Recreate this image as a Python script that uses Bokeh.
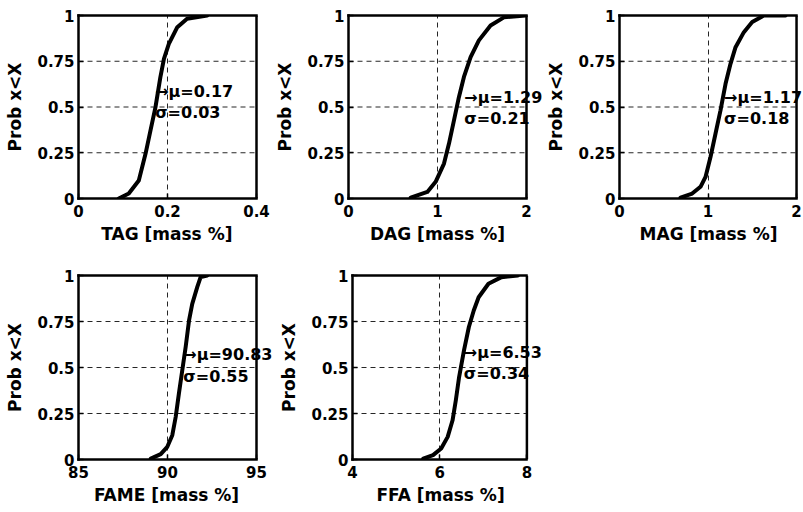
from bokeh.plotting import figure
from bokeh.layouts import column, row
from bokeh.models import Range1d, FixedTicker, Label, LinearAxis, Span, Title
from bokeh.embed import file_html
from bokeh.resources import INLINE

# ---- data -------------------------------------------------------------
components = ["TAG", "DAG", "MAG", "FAME", "FFA"]
mu = [0.17, 1.29, 1.17, 90.83, 6.53]
sigma = [0.03, 0.21, 0.18, 0.55, 0.34]

x_limits = [(0, 0.4), (0, 2), (0, 2), (85, 95), (4, 8)]
x_ticks = [[0, 0.2, 0.4], [0, 1, 2], [0, 1, 2], [85, 90, 95], [4, 6, 8]]
x_tick_labels = [["0", "0.2", "0.4"], ["0", "1", "2"], ["0", "1", "2"],
                 ["85", "90", "95"], ["4", "6", "8"]]
y_ticks = [0, 0.25, 0.5, 0.75, 1]
y_tick_labels = ["0", "0.25", "0.5", "0.75", "1"]

# cumulative probability curves
tag_x = [0.0905, 0.113, 0.1355, 0.1506, 0.1618, 0.173, 0.184, 0.192, 0.203, 0.222, 0.244, 0.289]
tag_y = [0.0, 0.027, 0.098, 0.244, 0.372, 0.499, 0.663, 0.763, 0.845, 0.936, 0.982, 1.0]
dag_x = [0.699, 0.886, 0.979, 1.073, 1.129, 1.185, 1.241, 1.297, 1.372, 1.465, 1.596, 1.746, 1.99]
dag_y = [0.005, 0.036, 0.091, 0.191, 0.3, 0.427, 0.555, 0.664, 0.773, 0.864, 0.945, 0.99, 1.0]
mag_x = [0.689, 0.821, 0.915, 0.972, 1.028, 1.085, 1.141, 1.198, 1.254, 1.311, 1.405, 1.499, 1.631, 1.876]
mag_y = [0.005, 0.027, 0.064, 0.118, 0.227, 0.355, 0.482, 0.627, 0.736, 0.827, 0.909, 0.964, 1.0, 1.0]
fame_x = [89.06, 89.62, 89.99, 90.27, 90.46, 90.64, 90.83, 91.02, 91.21, 91.39, 91.67, 91.86, 92.23]
fame_y = [0.005, 0.029, 0.069, 0.132, 0.231, 0.358, 0.485, 0.611, 0.756, 0.846, 0.937, 0.991, 1.0]
ffa_x = [5.622, 5.847, 6.034, 6.183, 6.295, 6.37, 6.445, 6.557, 6.669, 6.781, 6.893, 7.118, 7.417, 7.791]
ffa_y = [0.005, 0.024, 0.06, 0.123, 0.213, 0.322, 0.448, 0.593, 0.72, 0.81, 0.882, 0.955, 0.991, 1.0]

curves = [(tag_x, tag_y), (dag_x, dag_y), (mag_x, mag_y), (fame_x, fame_y), (ffa_x, ffa_y)]

# ---- layout / style ---------------------------------------------------
FONT = "DejaVu Sans"
LABEL_PX = 17
BOX_W = 178                      # width of the drawn axes box, px
mu_note_y = [0.585, 0.552, 0.55, 0.57, 0.58]
sigma_note_y = [0.47, 0.437, 0.435, 0.45, 0.465]
left_borders = [78, 78, 75, 78, 72]
# extra room right of each box so the notes may run past its edge
spill = [14, 17, 7, 20, 20]
fig_heights = [260, 260, 260, 252, 252]

# advance widths (em) of DejaVu Sans Bold, used to centre the x labels on the box
ADV = {" ": 0.348, "%": 1.002, "[": 0.457, "]": 0.457, "a": 0.675, "m": 1.042,
       "s": 0.595, "T": 0.682, "A": 0.774, "G": 0.821, "D": 0.830, "M": 0.995,
       "F": 0.683, "E": 0.683}


def text_width(s, px):
    return sum(ADV.get(c, 0.65) for c in s) * px


def make_panel(i):
    lo, hi = x_limits[i]
    left = left_borders[i]
    w = left + BOX_W + spill[i]
    h = fig_heights[i]
    frame_h = 183 if i < 3 else 184
    x_end = hi + (hi - lo) * spill[i] / BOX_W

    p = figure(width=w, height=h, output_backend="svg", toolbar_location=None,
               x_range=Range1d(lo, x_end), y_range=Range1d(0, 1),
               min_border_left=left, min_border_right=0,
               min_border_top=15, min_border_bottom=h - 15 - frame_h)
    p.background_fill_color = "white"
    p.border_fill_color = "white"
    p.outline_line_color = None

    # box edges: left/bottom/top axis lines plus a span on the right
    top_axis = LinearAxis(ticker=FixedTicker(ticks=[]), major_label_text_font_size="0px",
                          major_tick_line_color=None, minor_tick_line_color=None)
    p.add_layout(top_axis, "above")
    p.xaxis.bounds = (lo, hi)
    for ax in list(p.xaxis) + list(p.yaxis):
        ax.axis_line_color = "black"
        ax.axis_line_width = 2.5
        ax.axis_line_cap = "square"
    p.add_layout(Span(location=hi, dimension="height", line_color="black", line_width=2.5))

    bottom = p.below[0]
    bottom.ticker = FixedTicker(ticks=x_ticks[i])
    bottom.major_label_overrides = dict(zip(x_ticks[i], x_tick_labels[i]))
    p.yaxis.ticker = FixedTicker(ticks=y_ticks)
    p.yaxis.major_label_overrides = dict(zip(y_ticks, y_tick_labels))

    # dashed grid
    p.xgrid.ticker = FixedTicker(ticks=x_ticks[i][1:-1])
    p.xgrid.grid_line_color = "black"
    p.xgrid.grid_line_dash = "5 4"
    p.xgrid.grid_line_alpha = 0.85
    p.ygrid.visible = False
    inner_y = y_ticks[1:-1]
    p.segment(x0=[lo] * len(inner_y), x1=[hi] * len(inner_y), y0=inner_y, y1=inner_y,
              line_color="black", line_width=1, line_dash="5 4", line_alpha=0.85)

    p.yaxis.axis_label = "Prob x<X"
    for ax in (bottom, p.yaxis[0]):
        ax.major_tick_in = 5
        ax.major_tick_out = 0
        ax.major_tick_line_width = 1.5
        ax.minor_tick_line_color = None
        ax.major_label_text_font = FONT
        ax.major_label_text_font_style = "bold"
        ax.major_label_text_font_size = "15px"
        ax.major_label_text_color = "black"
        ax.axis_label_text_font = FONT
        ax.axis_label_text_font_style = "bold"
        ax.axis_label_text_font_size = f"{LABEL_PX}px"
        ax.axis_label_text_color = "black"
    bottom.major_label_standoff = 6
    p.yaxis.major_label_standoff = 4
    p.yaxis.axis_label_standoff = 9

    # x label, centred under the box rather than under the whole frame
    xlabel = f"{components[i]} [mass %]"
    p.add_layout(Title(text=xlabel, align="left",
                       offset=(BOX_W - text_width(xlabel, LABEL_PX)) / 2,
                       standoff=4, text_font=FONT, text_font_style="bold",
                       text_font_size=f"{LABEL_PX}px", text_color="black"), "below")

    cx, cy = curves[i]
    p.line(cx, cy, line_width=4, line_color="black", line_join="round", line_cap="round")

    for txt, yy in ((f"\u2192\u03bc={mu[i]:.2f}", mu_note_y[i]),
                    (f"\u03c3={sigma[i]:.2f}", sigma_note_y[i])):
        p.add_layout(Label(x=mu[i], y=yy, text=txt, x_offset=1,
                           text_baseline="middle", text_align="left",
                           text_font=FONT, text_font_style="bold",
                           text_font_size="16px", text_color="black"))
    return p


panels = [make_panel(i) for i in range(5)]
layout = column(row(*panels[:3]), row(*panels[3:]))

open("out.html", "w").write(file_html(layout, INLINE))
